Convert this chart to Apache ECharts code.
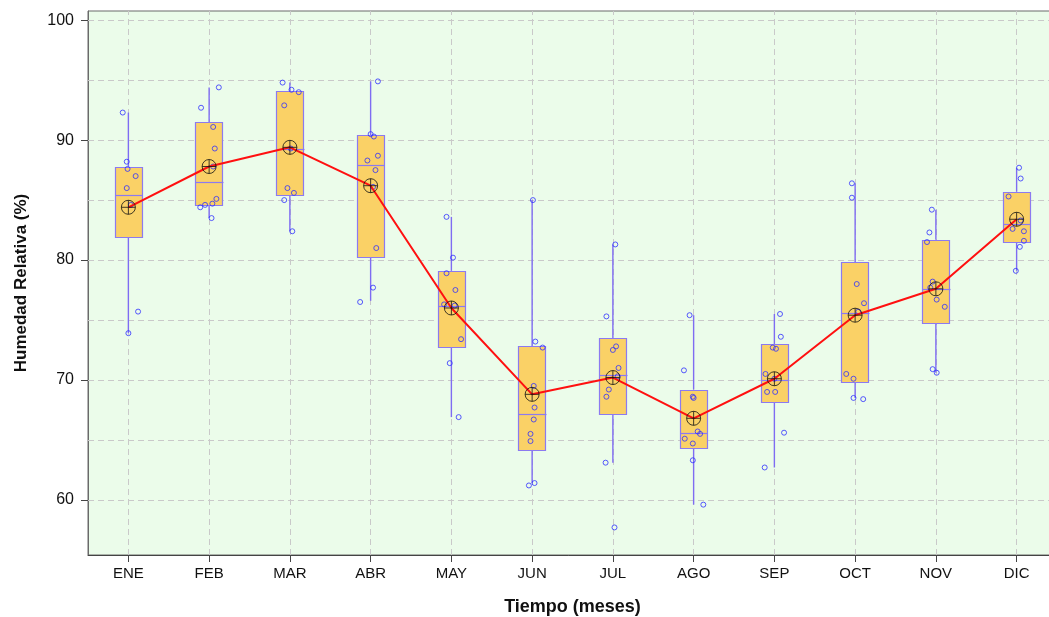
<!DOCTYPE html>
<html>
<head>
<meta charset="utf-8">
<title>Humedad Relativa mensual</title>
<script src="https://cdn.jsdelivr.net/npm/echarts@6/dist/echarts.min.js"></script>
<style>
  html, body { margin: 0; padding: 0; background: #ffffff; }
  #chart { width: 1049px; height: 617px; }
</style>
</head>
<body>
<div id="chart"></div>
<script>
// Meses
const months = ['ENE', 'FEB', 'MAR', 'ABR', 'MAY', 'JUN', 'JUL', 'AGO', 'SEP', 'OCT', 'NOV', 'DIC'];

// Estadísticos de cada caja (%)
const whiskerLow  = [73.9, 83.5, 82.4, 76.6, 66.9, 61.4, 63.1, 59.6, 62.7, 68.5, 70.6, 79.1];
const q1          = [82.0, 84.6, 85.4, 80.2, 72.8, 64.1, 67.2, 64.4, 68.2, 69.8, 74.8, 81.5];
const median      = [85.4, 86.5, 89.3, 87.9, 76.2, 67.2, 70.4, 65.6, 70.0, 75.6, 77.6, 83.0];
const q3          = [87.8, 91.5, 94.1, 90.4, 79.1, 72.8, 73.5, 69.2, 73.0, 79.8, 81.7, 85.7];
const whiskerHigh = [92.3, 94.4, 94.8, 94.9, 83.6, 85.0, 81.3, 75.4, 75.5, 86.4, 84.2, 87.7];

// Promedio mensual (%)
const means = [84.4, 87.8, 89.4, 86.2, 76.0, 68.8, 70.2, 66.8, 70.1, 75.4, 77.6, 83.4];

// Observaciones anuales por mes (%)
const obsValues = [
  [92.3, 88.2, 87.6, 87.0, 86.0, 84.6, 75.7, 73.9],
  [94.4, 92.7, 91.1, 89.3, 87.8, 85.1, 84.7, 84.6, 84.4, 83.5],
  [94.8, 94.2, 94.0, 92.9, 89.3, 86.0, 85.6, 85.0, 82.4],
  [94.9, 90.5, 90.3, 88.7, 88.3, 87.5, 86.1, 81.0, 77.7, 76.5],
  [83.6, 80.2, 78.9, 77.5, 76.3, 76.2, 73.4, 71.4, 66.9],
  [85.0, 73.2, 72.7, 69.5, 67.7, 66.7, 65.5, 64.9, 61.4, 61.2],
  [81.3, 75.3, 72.8, 72.5, 71.0, 70.3, 69.2, 68.6, 63.1, 57.7],
  [75.4, 70.8, 68.6, 68.5, 65.7, 65.5, 65.1, 64.7, 63.3, 59.6],
  [75.5, 73.6, 72.7, 72.6, 70.5, 70.1, 69.0, 69.0, 65.6, 62.7],
  [86.4, 85.2, 78.0, 76.4, 75.7, 70.5, 70.1, 68.5, 68.4],
  [84.2, 82.3, 81.5, 78.2, 77.7, 76.7, 76.1, 70.9, 70.6],
  [87.7, 86.8, 85.3, 83.3, 82.6, 82.4, 81.6, 81.1, 79.1]
];
// Desplazamiento horizontal (jitter) de cada observación, en unidades de mes
const obsJitter = [
  [-0.07, -0.02, -0.01, 0.09, -0.02, 0.03, 0.12, 0.00],
  [0.12, -0.10, 0.05, 0.07, 0.05, 0.09, 0.04, -0.05, -0.11, 0.03],
  [-0.09, 0.02, 0.11, -0.07, 0.01, -0.03, 0.05, -0.07, 0.03],
  [0.09, 0.00, 0.04, 0.09, -0.04, 0.06, 0.03, 0.07, 0.03, -0.13],
  [-0.06, 0.02, -0.06, 0.05, -0.09, 0.04, 0.12, -0.02, 0.09],
  [0.01, 0.04, 0.13, 0.02, 0.03, 0.02, -0.02, -0.02, 0.03, -0.04],
  [0.03, -0.08, 0.04, 0.00, 0.07, 0.06, -0.05, -0.08, -0.09, 0.02],
  [-0.05, -0.12, -0.01, 0.00, 0.05, 0.08, -0.11, -0.01, -0.01, 0.12],
  [0.07, 0.08, -0.02, 0.02, -0.11, 0.00, -0.09, 0.01, 0.12, -0.12],
  [-0.04, -0.04, 0.02, 0.11, 0.04, -0.11, -0.02, -0.02, 0.10],
  [-0.05, -0.08, -0.11, -0.04, -0.07, 0.01, 0.11, -0.04, 0.01],
  [0.03, 0.05, -0.10, 0.05, -0.05, 0.09, 0.09, 0.04, -0.01]
];

// Marcas del eje Y y líneas de referencia
const yTickValues = [60, 70, 80, 90, 100];
const yGridValues = [60, 65, 70, 75, 80, 85, 90, 95, 100];

// ---- estilos ----
const FONT = '"Liberation Sans", Arial, sans-serif';
const BOX_FILL = '#FAD166';
const BOX_EDGE = '#8C7AF0';
const WHISKER = '#7F6CF2';
const POINT = '#2F2FFF';
const MEAN_LINE = '#FF1010';
const GRID_DASH = '#C9C9C9';
const BOX_WIDTH = 0.34; // en unidades de mes

const monthPos = months.map((m, i) => i + 1);

const boxData = months.map((m, i) => [i + 1, whiskerLow[i], q1[i], median[i], q3[i], whiskerHigh[i]]);
const pointData = [];
obsValues.forEach((vals, i) => {
  vals.forEach((v, k) => pointData.push([i + 1 + obsJitter[i][k], v]));
});
const meanData = months.map((m, i) => [i + 1, means[i]]);

function renderBox(params, api) {
  const x = api.value(0);
  const pLow = api.coord([x, api.value(1)]);
  const pQ1 = api.coord([x, api.value(2)]);
  const pMed = api.coord([x, api.value(3)]);
  const pQ3 = api.coord([x, api.value(4)]);
  const pHigh = api.coord([x, api.value(5)]);
  const half = api.size([BOX_WIDTH, 0])[0] / 2;
  const cx = pMed[0];
  // el bigote cubre la línea de referencia vertical del mismo mes
  const lineStyle = { stroke: WHISKER, lineWidth: 1.4 };
  return {
    type: 'group',
    children: [
      { type: 'line', shape: { x1: cx, y1: pHigh[1], x2: cx, y2: pQ3[1] }, style: lineStyle },
      { type: 'line', shape: { x1: cx, y1: pQ1[1], x2: cx, y2: pLow[1] }, style: lineStyle },
      {
        type: 'rect',
        shape: { x: Math.round(cx - half) + 0.5, y: Math.round(pQ3[1]) + 0.5, width: Math.round(2 * half), height: Math.round(pQ1[1] - pQ3[1]) },
        style: { fill: BOX_FILL, stroke: BOX_EDGE, lineWidth: 1.2 }
      },
      {
        type: 'line',
        shape: { x1: Math.round(cx - half) + 0.5, y1: Math.round(pMed[1]) + 0.5, x2: Math.round(cx + half) + 0.5, y2: Math.round(pMed[1]) + 0.5 },
        style: { stroke: BOX_EDGE, lineWidth: 1.2 }
      }
    ]
  };
}

// Símbolo del promedio: círculo con cruz
const MEAN_SYMBOL = 'path://M0,10a10,10 0 1,0 20,0a10,10 0 1,0 -20,0Z M0,10L20,10 M10,0L10,20';

const chart = echarts.init(document.getElementById('chart'), null, { renderer: 'canvas' });

chart.setOption({
  animation: false,
  backgroundColor: '#ffffff',
  grid: {
    left: 88, top: 11, right: -8, bottom: 62,
    outerBoundsMode: 'none',
    containLabel: false,
    show: true,
    backgroundColor: '#EBFCEA',
    borderColor: '#6a6a6a',
    borderWidth: 1
  },
  xAxis: {
    type: 'value',
    min: 0.5,
    max: 12.5,
    name: 'Tiempo (meses)',
    nameLocation: 'middle',
    nameGap: 43,
    nameTextStyle: { fontFamily: FONT, fontSize: 18, fontWeight: 'bold', color: '#111' },
    axisLine: { show: true, lineStyle: { color: '#444', width: 1 } },
    axisTick: { show: true, customValues: monthPos, length: 7, lineStyle: { color: '#444' } },
    axisLabel: {
      customValues: monthPos,
      formatter: (v) => months[Math.round(v) - 1] || '',
      fontFamily: FONT, fontSize: 15, color: '#111', margin: 11
    },
    splitLine: { show: false }
  },
  yAxis: {
    type: 'value',
    min: 55.4,
    max: 100.77,
    name: 'Humedad Relativa (%)',
    nameLocation: 'middle',
    nameGap: 58,
    nameTextStyle: { fontFamily: FONT, fontSize: 17, fontWeight: 'bold', color: '#111' },
    axisLine: { show: true, lineStyle: { color: '#6a6a6a', width: 1 } },
    axisTick: { show: true, customValues: yTickValues, length: 7, lineStyle: { color: '#444' } },
    axisLabel: {
      customValues: yTickValues,
      fontFamily: FONT, fontSize: 16, color: '#111', margin: 14
    },
    splitLine: { show: false }
  },
  series: [
    {
      // líneas de referencia discontinuas, debajo de las cajas
      type: 'scatter',
      data: [],
      z: 1,
      silent: true,
      markLine: {
        z: 1,
        silent: true,
        symbol: 'none',
        label: { show: false },
        emphasis: { disabled: true },
        lineStyle: { color: GRID_DASH, type: [6, 4], width: 1 },
        data: yGridValues.map(v => ({ yAxis: v })).concat(monthPos.map(v => ({ xAxis: v })))
      }
    },
    {
      type: 'custom',
      z: 2,
      renderItem: renderBox,
      encode: { x: 0, y: [1, 2, 3, 4, 5] },
      data: boxData
    },
    {
      type: 'scatter',
      z: 3,
      symbol: 'circle',
      symbolSize: 5,
      itemStyle: { color: 'rgba(0,0,0,0)', borderColor: POINT, borderWidth: 1 },
      data: pointData
    },
    {
      type: 'line',
      z: 4,
      symbol: 'none',
      lineStyle: { color: MEAN_LINE, width: 2 },
      data: meanData
    },
    {
      type: 'scatter',
      z: 5,
      symbol: MEAN_SYMBOL,
      symbolSize: 14,
      itemStyle: { color: 'none', borderColor: '#111', borderWidth: 1 },
      data: meanData
    }
  ]
});
</script>
</body>
</html>
